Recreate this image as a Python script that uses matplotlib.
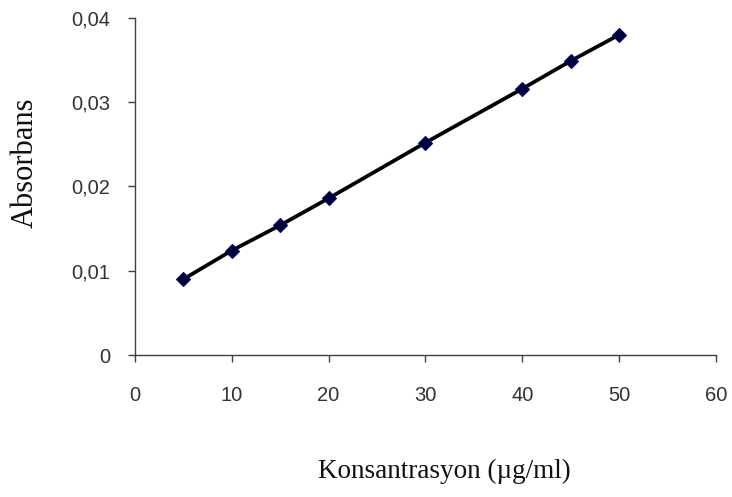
import matplotlib
matplotlib.use("Agg")
import matplotlib.pyplot as plt
from matplotlib.ticker import FuncFormatter

# data
konsantrasyon = [5, 10, 15, 20, 30, 40, 45, 50]
absorbans = [0.0090, 0.0124, 0.0154, 0.0186, 0.0252, 0.0316, 0.0349, 0.0380]

x_ticks = [0, 10, 20, 30, 40, 50, 60]
y_ticks = [0, 0.01, 0.02, 0.03, 0.04]

fig = plt.figure(figsize=(7.32, 4.97), dpi=100)
ax = fig.add_axes([0.1844, 0.2857, 0.7936, 0.6781])

ax.plot(konsantrasyon, absorbans, color='black', linewidth=2.7,
        marker='D', markersize=7, markerfacecolor='#000033',
        markeredgecolor='#000080', markeredgewidth=0.8)

ax.set_xlim(0, 60)
ax.set_ylim(0, 0.04)
ax.set_xticks(x_ticks)
ax.set_yticks(y_ticks)
ax.yaxis.set_major_formatter(FuncFormatter(
    lambda v, p: '0' if v == 0 else ('%.2f' % v).replace('.', ',')))

for s in ['top', 'right']:
    ax.spines[s].set_visible(False)
for s in ['left', 'bottom']:
    ax.spines[s].set_color('#404040')
    ax.spines[s].set_linewidth(1.0)

ax.tick_params(axis='both', direction='out', length=5, width=1.0,
               color='#404040', labelcolor='#333333', labelsize=14.5)
ax.tick_params(axis='x', pad=17)
ax.tick_params(axis='y', pad=13)
for lab in ax.get_xticklabels() + ax.get_yticklabels():
    lab.set_family('Liberation Sans')

fig.text(0.607, 0.052, 'Konsantrasyon (µg/ml)', ha='center', va='center',
         family='Liberation Serif', fontsize=19.5, color='#111111')
fig.text(0.035, 0.673, 'Absorbans', ha='center', va='center', rotation=90,
         family='Liberation Serif', fontsize=22, color='#111111')

fig.savefig('out.png', dpi=100)
